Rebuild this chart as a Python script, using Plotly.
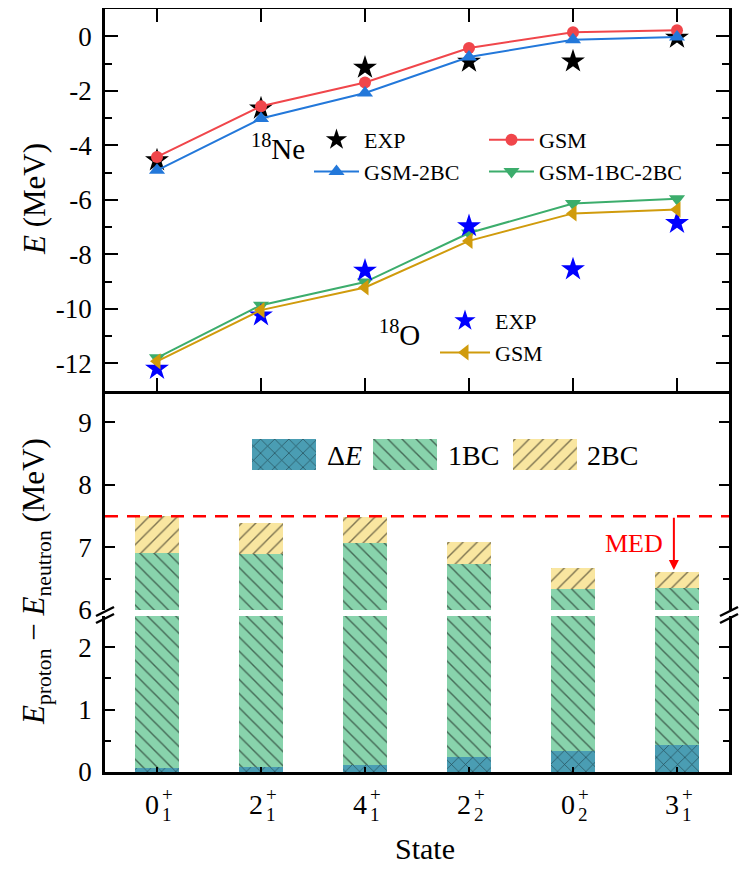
import plotly.graph_objects as go

# ---- data ----
states = ["0", "2", "4", "2", "0", "3"]
state_sub = ["1", "1", "1", "2", "2", "1"]

# top panel: energies (MeV)
ne_exp = [-4.55, -2.65, -1.15, -0.93, -0.92, -0.05]
ne_gsm = [-4.43, -2.57, -1.70, -0.43, 0.15, 0.22]
ne_gsm_2bc = [-4.92, -3.02, -2.08, -0.76, -0.13, -0.03]
o_exp = [-12.2, -10.24, -8.6, -6.97, -8.55, -6.85]
o_gsm_1bc_2bc = [-11.8, -9.87, -9.02, -7.22, -6.14, -5.96]
o_gsm = [-11.93, -10.05, -9.22, -7.51, -6.5, -6.36]

# bottom panel: stacked contributions (MeV)
delta_e = [0.06, 0.085, 0.11, 0.245, 0.34, 0.43]
one_bc = [6.85, 6.815, 6.96, 6.495, 6.0, 5.92]
two_bc = [0.59, 0.49, 0.42, 0.34, 0.33, 0.26]
med_value = 7.5

FONT = "Liberation Serif, Times New Roman, DejaVu Serif, serif"

# the page body has an 8px margin, so the figure is drawn 8px in from the window
BODY = 8
W, H = 747 - 2 * BODY, 878 - 2 * BODY
# plot area in window pixels
PX0, PX1, PY0, PY1 = 105, 729, 9, 772
ML, MR = PX0 - BODY, W - (PX1 - BODY)
MT, MB = PY0 - BODY, H - (PY1 - BODY)
PW, PH = PX1 - PX0, PY1 - PY0


def px_x(p):
    return (p - PX0) / PW


def px_y(p):
    return (PY1 - p) / PH


xs = list(range(len(states)))

C_RED = "#F0464B"
C_BLUE = "#2378DA"
C_GREEN = "#3CAD6C"
C_GOLD = "#D09B0C"
C_DE = "#4A9DB3"
C_1BC = "#88D3AC"
C_2BC = "#F9E6A0"

fig = go.Figure()

# ---- top panel ----
fig.add_trace(go.Scatter(x=xs, y=ne_exp, mode="markers", name="EXP",
                         marker=dict(symbol="star", size=18, color="black"),
                         xaxis="x", yaxis="y", legend="legend"))
fig.add_trace(go.Scatter(x=xs, y=ne_gsm, mode="lines+markers", name="GSM",
                         line=dict(color=C_RED, width=2),
                         marker=dict(symbol="circle", size=12, color=C_RED),
                         xaxis="x", yaxis="y", legend="legend2"))
fig.add_trace(go.Scatter(x=xs, y=ne_gsm_2bc, mode="lines+markers", name="GSM-2BC",
                         line=dict(color=C_BLUE, width=2),
                         marker=dict(symbol="triangle-up", size=14, color=C_BLUE),
                         xaxis="x", yaxis="y", legend="legend"))
fig.add_trace(go.Scatter(x=xs, y=o_gsm_1bc_2bc, mode="lines+markers", name="GSM-1BC-2BC",
                         line=dict(color=C_GREEN, width=2),
                         marker=dict(symbol="triangle-down", size=14, color=C_GREEN),
                         xaxis="x", yaxis="y", legend="legend2"))
fig.add_trace(go.Scatter(x=xs, y=o_exp, mode="markers", name="EXP",
                         marker=dict(symbol="star", size=18, color="#0000FF"),
                         xaxis="x", yaxis="y", legend="legend3"))
fig.add_trace(go.Scatter(x=xs, y=o_gsm, mode="lines+markers", name="GSM",
                         line=dict(color=C_GOLD, width=2),
                         marker=dict(symbol="triangle-left", size=14, color=C_GOLD),
                         xaxis="x", yaxis="y", legend="legend3"))

# ---- bottom panel (broken axis: y2 upper part, y3 lower part) ----
parts = [
    (delta_e, C_DE, "x"),
    (one_bc, C_1BC, "\\"),
    (two_bc, C_2BC, "/"),
]


def hatch(col, shp):
    return dict(color=col, line=dict(width=0),
                pattern=dict(shape=shp, fgcolor="black", bgcolor=col,
                             size=10, solidity=0.14, fillmode="overlay"))


for yax in ["y2", "y3"]:
    for vals, col, shp in parts:
        fig.add_trace(go.Bar(x=xs, y=vals, width=0.42, xaxis="x2", yaxis=yax,
                             showlegend=False, marker=hatch(col, shp)))

# bar legend swatches drawn on a hidden helper axis
legend_names = ["Δ<i>E</i>", "1BC", "2BC"]
swatch_pos = [284, 405, 545]
text_pos = [325, 446, 585]
for (vals, col, shp), sx in zip(parts, swatch_pos):
    fig.add_trace(go.Bar(x=[sx], y=[1], width=64, xaxis="x4", yaxis="y4",
                         showlegend=False, marker=hatch(col, shp)))

axis_common = dict(showline=True, linecolor="black", linewidth=2.5, showgrid=False,
                   zeroline=False, ticks="inside", tickcolor="black", tickwidth=2,
                   tickfont=dict(family=FONT, size=27, color="black"))
legend_common = dict(xanchor="left", yanchor="top", bgcolor="rgba(0,0,0,0)",
                     font=dict(family=FONT, size=22, color="black"),
                     tracegroupgap=0, traceorder="normal")

fig.update_layout(
    width=W, height=H,
    margin=dict(l=ML, r=MR, t=MT, b=MB, autoexpand=False),
    plot_bgcolor="white", paper_bgcolor="white",
    barmode="stack", bargap=0,
    font=dict(family=FONT, color="black"),
    xaxis=dict(**axis_common, domain=[0, 1], anchor="y", range=[-0.5, 5.5],
               tickvals=xs, showticklabels=False, mirror="ticks", ticklen=13),
    yaxis=dict(**axis_common, domain=[0.5, 1], anchor="x", range=[-13, 1],
               tickvals=[-12, -10, -8, -6, -4, -2, 0],
               ticktext=["-12", "-10", "-8", "-6", "-4", "-2", "0"],
               mirror="ticks", ticklen=13, ticklabelstandoff=5,
               minor=dict(tickvals=[-13, -11, -9, -7, -5, -3, -1, 1], ticks="inside",
                          ticklen=7, tickwidth=2, tickcolor="black")),
    xaxis2=dict(**axis_common, domain=[0, 1], anchor="y3", range=[-0.5, 5.5],
                tickvals=xs, showticklabels=False),
    yaxis2=dict(**axis_common, domain=[px_y(610), px_y(391)], anchor="x2",
                range=[6, 9.5], tickvals=[6, 7, 8, 9], mirror="ticks", ticklen=10,
                ticklabelstandoff=5,
                minor=dict(tickvals=[6.5, 7.5, 8.5], ticks="inside",
                           ticklen=6, tickwidth=2, tickcolor="black")),
    yaxis3=dict(**axis_common, domain=[0, px_y(616)], anchor="x2",
                range=[0, 2.5], tickvals=[0, 1, 2], mirror="ticks", ticklen=10,
                ticklabelstandoff=5,
                minor=dict(tickvals=[0.5, 1.5], ticks="inside",
                           ticklen=6, tickwidth=2, tickcolor="black")),
    xaxis4=dict(domain=[0, 1], anchor="y4", range=[PX0, PX1], visible=False,
                fixedrange=True),
    yaxis4=dict(domain=[px_y(470), px_y(439)], anchor="x4", range=[0, 1],
                visible=False, fixedrange=True),
    legend=dict(**legend_common, x=px_x(309), y=px_y(119), itemwidth=45),
    legend2=dict(**legend_common, x=px_x(484), y=px_y(119), itemwidth=45),
    legend3=dict(**legend_common, x=px_x(435), y=px_y(300), itemwidth=50),
)

ann = []


def label(text, x, y, size, xref="paper", xshift=0, xanchor="center", color="black", angle=0):
    ann.append(dict(text=text, x=x, y=y, xref=xref, yref="paper", xshift=xshift,
                    xanchor=xanchor, yanchor="middle", textangle=angle, showarrow=False,
                    font=dict(family=FONT, size=size, color=color)))


# panel labels
label("<sup>18</sup>Ne", px_x(278), px_y(147), 29)
label("<sup>18</sup>O", px_x(399), px_y(333), 29)
# y titles
label("<i>E</i> (MeV)", px_x(34), px_y(199), 31, angle=-90)
label("<i>E</i><sub>proton</sub> − <i>E</i><sub>neutron</sub> (MeV)",
      px_x(36), px_y(582), 31, angle=-90)
# x title
label("State", px_x(425), px_y(848), 30)
# x tick labels with stacked sub/sup
for i, (s, sub) in enumerate(zip(states, state_sub)):
    label(s, i, px_y(804), 28, xref="x2", xshift=-5)
    label("+", i, px_y(794), 19, xref="x2", xshift=10)
    label(sub, i, px_y(815), 19, xref="x2", xshift=10)
# bar legend labels
for name, tx in zip(legend_names, text_pos):
    label(name, px_x(tx), px_y(455), 28, xanchor="left")
# MED arrow and label
ann.append(dict(text="", x=4.97, y=6.64, xref="x2", yref="y2",
                ax=4.97, ay=med_value, axref="x2", ayref="y2",
                showarrow=True, arrowhead=2, arrowsize=1, arrowwidth=2, arrowcolor="red"))
label("MED", px_x(634), px_y(543), 26, color="red")
fig.update_layout(annotations=ann)

shapes = [dict(type="line", xref="paper", x0=0, x1=1, yref="y2", y0=med_value, y1=med_value,
               line=dict(color="red", width=2.5, dash="13px,9px"))]
# axis break marks
for bx in [PX0, PX1]:
    for dy in [0, 7]:
        shapes.append(dict(type="line", xref="paper", yref="paper",
                           x0=px_x(bx - 9), y0=px_y(616 + dy),
                           x1=px_x(bx + 9), y1=px_y(607 + dy),
                           line=dict(color="black", width=2.5)))
fig.update_layout(shapes=shapes)

fig.write_html("out.html")
